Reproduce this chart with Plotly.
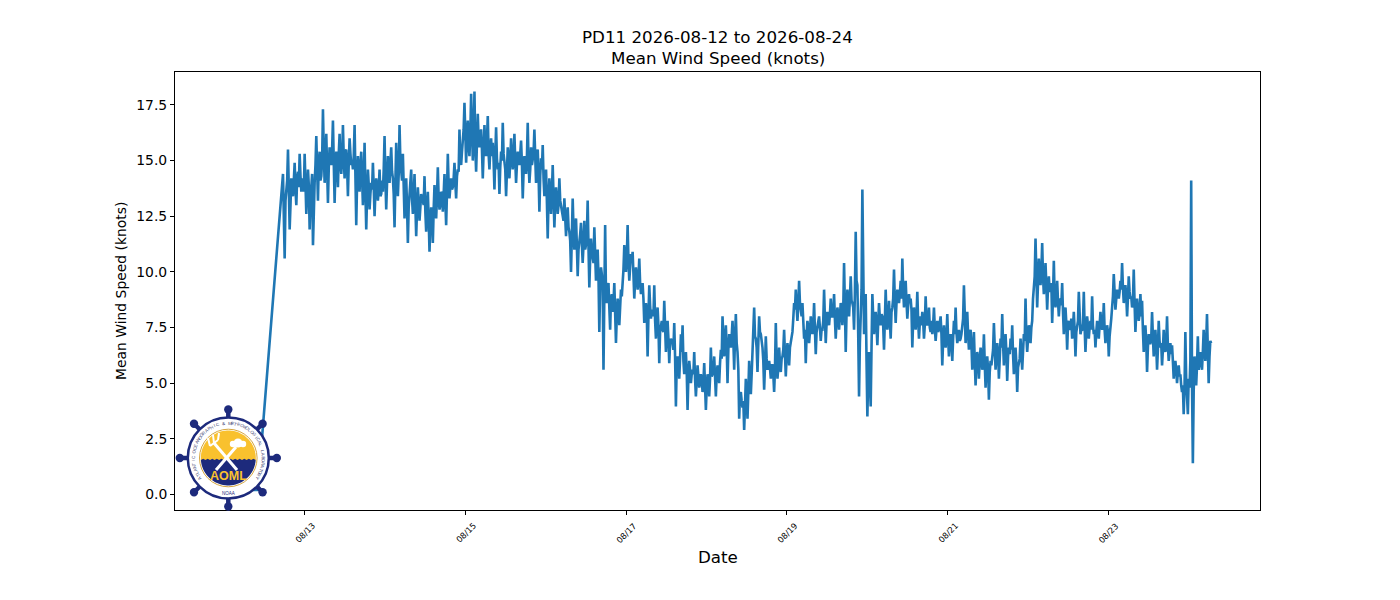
import numpy as np
import pandas as pd
import plotly.graph_objects as go

# ---------------- data ----------------
early_times = pd.date_range("2026-08-12 00:00", "2026-08-12 10:00", freq="1h")
early_speed = [0.2, 0.3, 0.2, 0.2, 0.3, 0.2, 0.2, 0.3, 0.2, 0.2, 0.2]

# 15-minute values, 2026-08-12 17:30 onward
speed_aug12_14 = [
    14.4, 12.8, 10.6, 13.2, 13.8, 14.1, 15.5, 13.4, 11.9, 13.0, 14.2, 13.6,
    13.4, 14.1, 14.9, 13.7, 13.0, 14.2, 14.5, 13.8, 15.3, 14.3, 13.6, 14.0,
    14.2, 13.6, 15.3, 14.0, 12.6, 13.5, 14.6, 13.9, 11.9, 13.2, 13.8, 14.4,
    11.2, 13.0, 14.0, 14.8, 16.1, 14.6, 13.2, 14.9, 15.4, 14.1, 14.3, 15.0,
    17.3, 15.4, 14.0, 15.0, 16.2, 14.6, 13.1, 14.7, 15.6, 15.2, 14.8, 15.5,
    16.8, 14.9, 13.1, 14.6, 15.4, 15.0, 13.8, 15.3, 16.2, 14.8, 14.4, 15.1,
    16.6, 15.1, 14.2, 15.4, 15.5, 14.7, 13.4, 14.9, 16.0, 15.3, 14.8, 15.0,
    14.6, 15.2, 16.6, 14.3, 12.1, 14.0, 15.2, 14.5, 13.6, 14.8, 15.4, 14.2,
    13.0, 14.2, 15.8, 13.6, 11.9, 13.4, 14.6, 13.9, 12.8, 13.5, 14.0, 13.7,
    14.9, 13.8, 12.5, 13.6, 14.2, 13.9, 13.2, 13.7, 14.6, 13.4, 13.5, 14.1,
    13.6, 14.6, 16.1, 14.2, 12.8, 14.0, 15.2, 14.7, 14.0, 14.9, 15.6, 14.5,
    14.2, 13.5, 12.0, 14.0, 15.8, 14.6, 13.4, 14.4, 16.6, 15.0, 14.6, 14.1,
    15.3, 13.8, 12.4, 13.5, 14.2, 13.0, 11.3, 12.9, 13.6, 14.0, 14.6, 13.3,
    12.6, 13.4, 14.4, 13.0, 11.6, 12.8, 13.8, 13.1, 12.3, 12.9, 13.5, 13.2,
    13.2, 13.0, 14.3, 12.7, 11.8, 12.9, 13.6, 12.4, 10.9, 12.2, 12.9, 12.6,
    11.3, 12.8, 13.9, 13.1, 12.4, 13.4, 14.7, 13.3, 12.8, 13.0, 13.6, 13.5,
    12.7, 13.5, 14.4, 13.2, 12.1, 13.6, 15.3, 13.9, 13.3, 13.8, 14.2, 13.7,
    13.8, 14.2, 14.9, 14.0, 13.3, 14.3, 14.6, 14.5, 16.4, 15.0, 14.8, 15.4,
]
speed_aug15_17 = [
    15.8, 16.4, 17.6, 15.9, 14.9, 16.0, 16.8, 15.7, 15.2, 16.2, 18.0, 16.6,
    15.0, 16.0, 18.1, 15.6, 14.5, 15.8, 17.1, 15.9, 15.6, 16.2, 16.4, 15.5,
    14.2, 15.4, 16.6, 15.6, 15.2, 15.9, 17.0, 15.3, 14.6, 15.5, 16.0, 15.2,
    15.8, 15.0, 13.7, 15.2, 16.5, 15.1, 14.6, 14.9, 13.5, 14.7, 15.4, 15.0,
    16.7, 15.3, 14.8, 14.6, 13.4, 14.9, 15.6, 15.1, 14.2, 15.0, 16.0, 15.2,
    14.6, 15.1, 16.2, 15.0, 14.0, 14.8, 15.4, 15.2, 14.8, 15.3, 15.9, 14.9,
    13.3, 14.5, 15.2, 14.7, 14.4, 15.1, 16.7, 14.9, 14.0, 14.6, 15.6, 14.8,
    15.0, 15.3, 16.4, 14.7, 14.0, 14.9, 15.5, 14.4, 12.7, 14.3, 15.1, 14.6,
    15.7, 14.2, 13.4, 14.0, 14.6, 13.2, 11.5, 13.3, 14.2, 13.6, 12.6, 13.5,
    14.8, 13.4, 12.0, 13.1, 13.8, 13.3, 12.6, 13.0, 14.2, 13.2, 13.0, 12.7,
    12.6, 12.3, 13.3, 12.1, 11.6, 12.4, 12.9, 12.0, 11.8, 11.4, 10.0, 11.6,
    13.3, 11.9, 11.0, 11.8, 12.4, 11.2, 9.8, 11.0, 11.6, 11.7, 12.2, 11.4,
    10.4, 11.2, 12.3, 11.0, 11.2, 11.6, 13.2, 11.1, 9.3, 10.6, 11.5, 10.9,
    10.6, 10.4, 12.0, 10.1, 9.6, 10.3, 11.0, 9.8, 7.3, 9.4, 10.2, 9.9,
    9.4, 5.6, 9.2, 12.1, 9.0, 8.6, 9.1, 9.5, 8.4, 7.4, 8.8, 9.0,
    8.2, 8.6, 9.5, 8.3, 6.8, 8.0, 8.8, 8.5, 7.6, 8.4, 9.2, 8.9,
    9.4, 10.1, 11.2, 10.4, 10.0, 10.6, 12.1, 10.5, 9.6, 10.2, 10.8, 10.4,
    10.9, 9.9, 8.8, 9.6, 10.2, 9.8, 9.2, 9.7, 10.6, 9.5, 9.0, 9.3,
    9.5, 8.8, 7.7, 8.4, 8.6, 8.2, 6.2, 8.0, 9.4, 8.5, 7.9, 8.3,
    8.2, 8.0, 9.4, 7.8, 7.0, 7.9, 8.4, 7.6, 5.9, 7.3, 7.6, 7.8,
]
speed_aug17_20 = [
    7.4, 7.3, 8.7, 7.1, 6.4, 7.2, 7.8, 7.0, 5.9, 6.8, 7.0, 6.9,
    6.8, 6.5, 7.7, 6.2, 3.95, 5.9, 6.2, 6.0, 5.2, 6.1, 7.2, 6.4,
    7.6, 6.0, 5.4, 5.8, 6.4, 5.5, 3.8, 5.3, 6.0, 5.6, 5.0, 5.4,
    5.6, 5.4, 6.4, 5.2, 4.4, 5.1, 5.8, 5.3, 4.8, 5.0, 5.4, 5.2,
    4.6, 5.0, 5.9, 4.9, 3.8, 4.8, 5.4, 5.1, 4.4, 5.2, 6.6, 5.3,
    5.4, 5.6, 6.2, 5.3, 4.4, 5.4, 5.8, 5.5, 5.0, 5.9, 6.5, 6.1,
    8.0, 7.0, 6.2, 6.9, 7.6, 6.6, 5.0, 6.5, 7.2, 6.8, 6.6, 7.1,
    7.8, 6.9, 5.6, 7.0, 8.1, 6.8, 6.4, 5.6, 3.4, 4.5, 4.6, 4.2,
    3.9, 4.2, 2.9, 4.0, 5.2, 4.4, 3.4, 4.6, 6.0, 5.0, 4.5, 5.4,
    6.4, 7.2, 8.4, 7.1, 7.0, 6.6, 5.5, 6.8, 8.0, 7.3, 7.2, 6.9,
    6.6, 6.0, 4.7, 5.8, 7.1, 6.1, 5.6, 5.9, 6.0, 5.7, 5.2, 5.8,
    5.8, 5.4, 4.6, 5.6, 7.7, 6.0, 5.2, 5.7, 6.6, 5.9, 5.5, 6.1,
    6.2, 6.5, 7.4, 6.3, 5.3, 6.2, 6.8, 6.4, 5.8, 6.6, 6.9, 7.0,
    7.3, 7.9, 8.6, 8.3, 9.2, 8.4, 7.8, 8.5, 9.6, 8.6, 8.2, 8.0,
    8.6, 7.7, 7.0, 7.4, 5.9, 7.2, 7.8, 7.5, 6.8, 7.3, 8.0, 7.6,
    7.2, 7.6, 8.6, 7.4, 6.3, 7.3, 7.6, 7.8, 8.0, 7.5, 6.9, 7.4,
    7.4, 7.8, 9.2, 7.9, 6.8, 7.7, 8.2, 7.9, 7.6, 8.1, 8.8, 8.0,
    8.0, 8.2, 9.0, 7.9, 7.0, 7.8, 8.4, 8.1, 7.4, 8.0, 8.6, 8.3,
    7.6, 8.3, 10.4, 8.5, 6.4, 8.2, 9.2, 8.6, 8.0, 8.8, 9.8, 8.7,
    8.6, 8.4, 7.4, 9.0, 11.8, 9.6, 9.4, 7.2, 4.4, 6.8, 8.0, 9.2,
    13.7, 9.4, 7.2, 8.0, 9.0, 6.0, 3.5, 5.4, 6.4, 5.0, 3.95, 6.6,
]
speed_aug20_24 = [
    9.0, 8.0, 7.2, 7.9, 8.2, 7.6, 6.7, 7.7, 8.6, 7.9, 7.6, 8.1,
    8.0, 7.6, 6.5, 7.8, 9.2, 8.0, 7.4, 7.9, 8.7, 7.8, 7.0, 8.2,
    8.4, 8.8, 10.1, 8.7, 7.7, 8.6, 9.2, 8.9, 8.6, 9.0, 9.6, 8.8,
    10.6, 9.2, 8.4, 8.9, 9.6, 8.7, 7.9, 8.5, 9.0, 8.6, 8.8, 8.3,
    6.6, 7.8, 8.4, 7.9, 7.4, 8.0, 9.1, 7.8, 7.0, 7.7, 8.0, 7.6,
    8.2, 7.8, 7.0, 7.6, 8.9, 7.9, 7.6, 7.7, 8.4, 7.5, 7.3, 7.8,
    7.2, 7.6, 8.4, 7.5, 6.9, 7.4, 7.8, 7.3, 7.4, 7.7, 8.0, 7.2,
    5.8, 6.9, 7.6, 7.0, 6.6, 7.1, 8.1, 7.0, 6.2, 6.8, 7.2, 7.0,
    6.0, 7.0, 7.8, 7.2, 8.4, 7.3, 6.8, 7.1, 7.4, 6.9, 7.0, 7.2,
    7.6, 7.9, 9.4, 7.7, 6.8, 7.5, 8.2, 7.2, 6.5, 7.0, 7.4, 6.8,
    5.6, 6.2, 7.3, 6.0, 4.9, 5.9, 6.4, 6.1, 5.2, 6.0, 6.6, 6.2,
    5.6, 6.1, 7.2, 5.9, 4.8, 5.7, 6.2, 5.6, 4.25, 5.5, 6.0, 5.8,
    6.4, 6.5, 7.7, 6.3, 5.6, 6.2, 6.8, 6.4, 5.2, 6.1, 7.0, 6.6,
    8.1, 6.8, 5.8, 6.5, 7.2, 6.4, 5.1, 6.2, 6.6, 6.3, 7.0, 6.5,
    7.6, 6.3, 5.4, 6.0, 6.6, 5.9, 4.6, 5.7, 6.0, 6.1, 7.0, 6.2,
    5.6, 6.4, 7.2, 6.9, 8.8, 7.1, 6.4, 7.0, 7.6, 7.3, 6.8, 7.5,
    7.8, 8.8, 9.6, 9.8, 11.5, 9.7, 8.4, 9.5, 10.6, 9.9, 9.4, 10.0,
    11.3, 9.8, 9.0, 9.6, 10.4, 9.4, 8.3, 9.3, 9.8, 9.1, 9.2, 9.5,
    7.7, 8.9, 10.5, 8.8, 8.4, 8.9, 9.6, 8.7, 8.0, 8.6, 8.8, 8.5,
    9.5, 8.2, 7.2, 8.0, 8.4, 7.7, 6.5, 7.6, 7.8, 7.5, 7.4, 7.9,
    7.0, 7.5, 8.2, 7.4, 6.2, 7.3, 7.6, 7.8, 9.1, 7.6, 7.2, 7.4,
    7.4, 7.7, 9.1, 7.5, 6.4, 7.3, 8.0, 7.6, 7.0, 7.5, 7.8, 7.4,
    8.9, 7.6, 7.2, 7.4, 6.6, 7.3, 7.8, 7.5, 7.0, 7.6, 8.2, 7.7,
    7.4, 7.6, 8.6, 7.4, 6.8, 7.2, 7.6, 7.3, 6.2, 7.1, 7.8, 7.9,
    8.4, 8.9, 9.9, 9.0, 8.3, 8.8, 9.2, 9.0, 8.8, 9.1, 9.6, 9.2,
    10.4, 9.3, 8.6, 9.0, 9.4, 8.9, 8.0, 8.8, 9.8, 9.1, 8.8, 8.9,
    8.4, 8.7, 10.1, 8.6, 7.3, 8.2, 8.8, 8.3, 7.8, 8.1, 9.0, 8.0,
    8.7, 7.4, 6.4, 7.0, 7.6, 6.9, 5.5, 6.6, 7.2, 6.8, 6.8, 7.0,
    8.2, 7.1, 6.2, 6.8, 7.4, 6.7, 5.6, 6.5, 7.8, 6.9, 6.6, 6.8,
    5.8, 6.5, 7.4, 6.6, 6.4, 6.8, 8.0, 6.7, 6.0, 6.4, 6.8, 6.3,
    6.7, 6.0, 5.2, 5.7, 6.0, 5.6, 5.0, 5.5, 5.8, 5.3, 5.4, 4.9,
    4.6, 4.9, 3.6, 4.8, 7.3, 5.2, 4.2, 3.6, 5.2, 4.8, 6.0, 14.1,
    5.0, 1.4, 4.6, 6.2, 5.4, 4.9, 5.8, 7.1, 5.6, 6.0, 6.4, 5.9,
    5.6, 6.4, 7.4, 6.6, 6.0, 6.8, 8.1, 6.5, 5.0, 6.2, 6.9, 6.8,
]
main_speed = speed_aug12_14 + speed_aug15_17 + speed_aug17_20 + speed_aug20_24
main_times = pd.date_range("2026-08-12 17:30", "2026-08-24 06:40", periods=len(main_speed))

tick_dates = ["2026-08-13", "2026-08-15", "2026-08-17", "2026-08-19", "2026-08-21", "2026-08-23"]
tick_labels = ["08/13", "08/15", "08/17", "08/19", "08/21", "08/23"]
y_ticks = [0.0, 2.5, 5.0, 7.5, 10.0, 12.5, 15.0, 17.5]

times = list(early_times) + list(main_times)
speed = early_speed + main_speed

# ---------------- figure ----------------
# page has an 8px body margin, so the figure is 8px smaller than the window
W, H = 1392, 592
L, R, T, B = 167, 140, 64, 90
PX0, PY0 = 175, 72          # plot-area origin in page pixels
PW, PH = 1085, 438
FONT = "DejaVu Sans"

fig = go.Figure()
fig.add_trace(go.Scatter(x=times, y=speed, mode="lines",
                         line=dict(color="#1f77b4", width=2.6), hoverinfo="skip"))

def P(X, Y):
    return (X - PX0) / PW, (PY0 + PH - Y) / PH

shapes = []
annotations = []

# logo (approximation of the AOML emblem), page-pixel geometry
NAVY = "#1d2a7c"
YEL = "#f9c12e"
GOLD = "#d5a640"
cx, cy = 228.3, 458.0

def circle(xc, yc, r, fill, line_color, lw):
    x0, y0 = P(xc - r, yc + r)
    x1, y1 = P(xc + r, yc - r)
    return dict(type="circle", xref="paper", yref="paper", x0=x0, y0=y0, x1=x1, y1=y1,
                fillcolor=fill, line=dict(color=line_color, width=lw), layer="above")

def line_px(xa, ya, xb, yb, color, lw):
    x0, y0 = P(xa, ya)
    x1, y1 = P(xb, yb)
    return dict(type="line", xref="paper", yref="paper", x0=x0, y0=y0, x1=x1, y1=y1,
                line=dict(color=color, width=lw), layer="above")

def path_px(pts, fill):
    s = ""
    for i, (X, Y) in enumerate(pts):
        px, py = P(X, Y)
        s += ("M" if i == 0 else "L") + f"{px:.5f},{py:.5f} "
    s += "Z"
    return dict(type="path", xref="paper", yref="paper", path=s, fillcolor=fill,
                line=dict(width=0), layer="above")

for k in range(8):
    a = np.deg2rad(45 * k)
    shapes.append(line_px(cx, cy, cx + 47 * np.cos(a), cy + 47 * np.sin(a), NAVY, 4.5))
for k in range(8):
    a = np.deg2rad(45 * k)
    shapes.append(circle(cx + 48.5 * np.cos(a), cy + 48.5 * np.sin(a), 4.2, NAVY, NAVY, 0))
shapes.append(circle(cx, cy, 40.5, "white", NAVY, 2.5))
shapes.append(circle(cx, cy, 28.8, "white", GOLD, 1))
r_in = 27.5
wl = 2.0
th = np.linspace(np.pi, 2 * np.pi, 40)
top_pts = [(cx + r_in * np.cos(t), cy + r_in * np.sin(t)) for t in th]
shapes.append(path_px([(cx - r_in, cy + wl)] + top_pts + [(cx + r_in, cy + wl)], YEL))
xb = np.sqrt(r_in**2 - wl**2)
a0 = np.arcsin(wl / r_in)
bot_arc = [(cx + r_in * np.cos(t), cy + r_in * np.sin(t)) for t in np.linspace(a0, np.pi - a0, 40)]
wave = [(cx - xb + i * (2 * xb) / 24, cy + wl - (1.2 if i % 2 else 0)) for i in range(25)]
shapes.append(path_px(wave + bot_arc, NAVY))
# white emblem: trident + lightning crossing, cloud
shapes.append(line_px(214, 443, 237, 470, "white", 3))
shapes.append(line_px(236, 447, 216, 470, "white", 3))
shapes.append(line_px(210, 446, 218, 440, "white", 2))
shapes.append(line_px(210, 446, 208, 438, "white", 2))
shapes.append(line_px(214, 443, 213, 435, "white", 2))
shapes.append(line_px(218, 440, 219, 433, "white", 2))
shapes.append(circle(238, 443, 4.5, "white", "white", 0))
shapes.append(circle(233, 444, 3.2, "white", "white", 0))
shapes.append(circle(243, 444, 3.2, "white", "white", 0))

ax, ay = P(cx, 476)
annotations.append(dict(x=ax, y=ay, xref="paper", yref="paper", text="<b>AOML</b>", showarrow=False,
                        font=dict(family="Liberation Sans", size=12.5, color=YEL),
                        xanchor="center", yanchor="middle"))
nx, ny = P(cx, 493.5)
annotations.append(dict(x=nx, y=ny, xref="paper", yref="paper", text="NOAA", showarrow=False,
                        font=dict(family="Liberation Sans", size=4.5, color=NAVY),
                        xanchor="center", yanchor="middle"))
ring_text = "ATLANTIC OCEANOGRAPHIC & METEOROLOGICAL LABORATORY"
phis = np.linspace(215, -35, len(ring_text))
for ch, ph in zip(ring_text, phis):
    if ch == " ":
        continue
    rad = np.deg2rad(ph)
    px, py = P(cx + 34.8 * np.cos(rad), cy - 34.8 * np.sin(rad))
    annotations.append(dict(x=px, y=py, xref="paper", yref="paper", text=ch, showarrow=False,
                            textangle=90 - ph, font=dict(family="Liberation Sans", size=4.5,
                                                         color="#3d4474"),
                            xanchor="center", yanchor="middle"))

# titles and axis labels
for txt, Yc in [("PD11 2026-08-12 to 2026-08-24", 36.7), ("Mean Wind Speed (knots)", 58.3)]:
    px, py = P(PX0 + PW / 2, Yc)
    annotations.append(dict(x=px, y=py, xref="paper", yref="paper", text=txt, showarrow=False,
                            font=dict(family=FONT, size=16.7, color="black"),
                            xanchor="center", yanchor="middle"))
px, py = P(PX0 + PW / 2, 557)
annotations.append(dict(x=px, y=py, xref="paper", yref="paper", text="Date", showarrow=False,
                        font=dict(family=FONT, size=16.7, color="black"),
                        xanchor="center", yanchor="middle"))
px, py = P(121, 291)
annotations.append(dict(x=px, y=py, xref="paper", yref="paper", text="Mean Wind Speed (knots)",
                        showarrow=False, textangle=-90,
                        font=dict(family=FONT, size=13.9, color="black"),
                        xanchor="center", yanchor="middle"))
# rotated date tick labels
_, ty = P(0, 532.5)
for d, lab in zip(tick_dates, tick_labels):
    annotations.append(dict(x=d, y=ty, xref="x", yref="paper", text=lab, showarrow=False,
                            textangle=-45, font=dict(family=FONT, size=8.3, color="black"),
                            xanchor="center", yanchor="middle"))

fig.update_layout(
    width=W, height=H,
    margin=dict(l=L, r=R, t=T, b=B, pad=0),
    paper_bgcolor="white", plot_bgcolor="white",
    showlegend=False,
    shapes=shapes, annotations=annotations,
    xaxis=dict(type="date", range=["2026-08-11 09:15", "2026-08-24 21:15"],
               showgrid=False, zeroline=False, showline=True, mirror=True,
               linecolor="black", linewidth=1, ticks="outside", ticklen=4,
               tickwidth=1, tickcolor="black", tickvals=tick_dates, showticklabels=False),
    yaxis=dict(range=[-0.70, 18.98], showgrid=False, zeroline=False, showline=True, mirror=True,
               linecolor="black", linewidth=1, ticks="outside", ticklen=4, tickwidth=1,
               tickcolor="black", tickvals=y_ticks, ticktext=[f"{v:.1f}" for v in y_ticks],
               tickfont=dict(family=FONT, size=13.9, color="black")),
)

fig.write_html("out.html")
